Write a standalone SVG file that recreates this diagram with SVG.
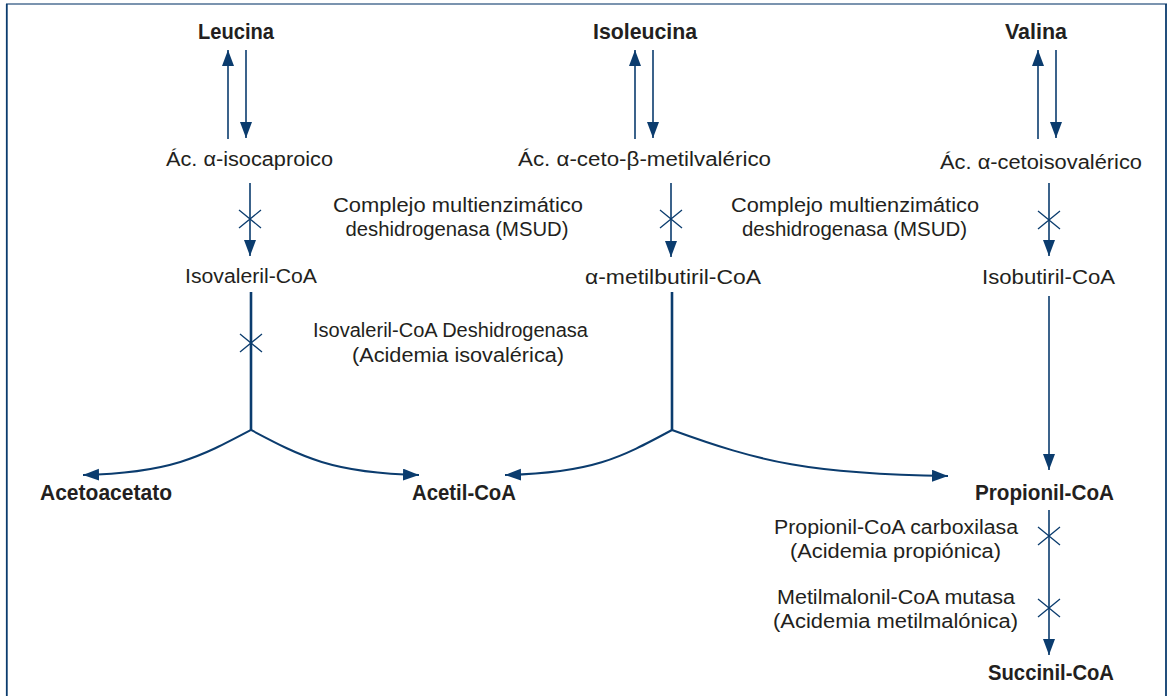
<svg xmlns="http://www.w3.org/2000/svg" width="1170" height="696" viewBox="0 0 1170 696">
  <style>
    .t { font-family: "Liberation Sans", Arial, sans-serif; font-size: 20px; fill: #231f20; text-anchor: middle; }
    .b { font-family: "Liberation Sans", Arial, sans-serif; font-size: 22px; font-weight: bold; fill: #231f20; text-anchor: middle; }
    .ln { stroke: #0b3c6e; stroke-width: 1.6; fill: none; }
    .thick { stroke: #0b3c6e; stroke-width: 2.6; fill: none; }
    .curve { stroke: #0b3c6e; stroke-width: 2; fill: none; }
    .x { stroke: #0b3c6e; stroke-width: 1.3; fill: none; }
  </style>
  <defs>
    <marker id="ah" markerUnits="userSpaceOnUse" markerWidth="17" markerHeight="13" refX="16" refY="6" orient="auto">
      <path d="M0,0 L16,6 L0,12 z" fill="#0b3c6e"/>
    </marker>
  </defs>

  <rect width="1170" height="696" fill="#ffffff"/>

  <!-- frame -->
  <g id="frame">
    <line x1="6" y1="4" x2="1167" y2="4" stroke="#4f7194" stroke-width="1.6"/>
    <line x1="6.8" y1="4" x2="6.8" y2="696" stroke="#0b3c6e" stroke-width="1.8"/>
    <line x1="1166" y1="4" x2="1166" y2="696" stroke="#0b3c6e" stroke-width="1.8"/>
  </g>

  <!-- connectors -->
  <g id="connectors">
    <!-- Leucina <-> ácido α-isocaproico -->
    <line class="ln" x1="228" y1="139" x2="228" y2="50" marker-end="url(#ah)"/>
    <line class="ln" x1="246" y1="50" x2="246" y2="138" marker-end="url(#ah)"/>
    <!-- Isoleucina <-> ácido α-ceto-β-metilvalérico -->
    <line class="ln" x1="635" y1="139" x2="635" y2="50" marker-end="url(#ah)"/>
    <line class="ln" x1="653" y1="50" x2="653" y2="138" marker-end="url(#ah)"/>
    <!-- Valina <-> ácido α-cetoisovalérico -->
    <line class="ln" x1="1038" y1="139" x2="1038" y2="50" marker-end="url(#ah)"/>
    <line class="ln" x1="1056" y1="50" x2="1056" y2="138" marker-end="url(#ah)"/>

    <!-- MSUD steps -->
    <line class="ln" x1="250" y1="183" x2="250" y2="256" marker-end="url(#ah)"/>
    <line class="ln" x1="671" y1="183" x2="671" y2="257" marker-end="url(#ah)"/>
    <line class="ln" x1="1049" y1="183" x2="1049" y2="256" marker-end="url(#ah)"/>

    <!-- to branch points -->
    <line class="thick" x1="251" y1="292" x2="251" y2="430"/>
    <line class="thick" x1="672" y1="292" x2="672" y2="430"/>
    <line class="ln" x1="1049" y1="296" x2="1049" y2="470" marker-end="url(#ah)"/>

    <!-- Leucina branches -->
    <path class="curve" d="M251,430 C200,457 170,473 83,475" marker-end="url(#ah)"/>
    <path class="curve" d="M251,430 C302,457 332,473 419,475" marker-end="url(#ah)"/>
    <!-- Isoleucina branches -->
    <path class="curve" d="M672,430 C620,458 592,473 505,475" marker-end="url(#ah)"/>
    <path class="curve" d="M672,430 C760,462 810,474 948,476" marker-end="url(#ah)"/>

    <!-- Propionil-CoA -> Succinil-CoA -->
    <line class="ln" x1="1049" y1="510" x2="1049" y2="655" marker-end="url(#ah)"/>

    <!-- enzyme blocks -->
    <path class="x" d="M239,210 L261,228 M261,210 L239,228"/>
    <path class="x" d="M240,334 L262,352 M262,334 L240,352"/>
    <path class="x" d="M660,210 L682,228 M682,210 L660,228"/>
    <path class="x" d="M1038,211 L1060,229 M1060,211 L1038,229"/>
    <path class="x" d="M1038,527 L1060,545 M1060,527 L1038,545"/>
    <path class="x" d="M1038,599 L1060,617 M1060,599 L1038,617"/>
  </g>

  <!-- amino acids -->
  <g id="leucina"><text class="b" x="236" y="39" textLength="76" lengthAdjust="spacingAndGlyphs">Leucina</text></g>
  <g id="isoleucina"><text class="b" x="645" y="39" textLength="104" lengthAdjust="spacingAndGlyphs">Isoleucina</text></g>
  <g id="valina"><text class="b" x="1036" y="39" textLength="62" lengthAdjust="spacingAndGlyphs">Valina</text></g>

  <!-- keto acids -->
  <g id="isocaproico"><text class="t" x="249.5" y="166" textLength="167" lengthAdjust="spacingAndGlyphs">Ác. α-isocaproico</text></g>
  <g id="metilvalerico"><text class="t" x="644.5" y="166" textLength="253" lengthAdjust="spacingAndGlyphs">Ác. α-ceto-β-metilvalérico</text></g>
  <g id="cetoisovalerico"><text class="t" x="1041" y="169" textLength="202" lengthAdjust="spacingAndGlyphs">Ác. α-cetoisovalérico</text></g>

  <!-- MSUD enzyme labels -->
  <g id="msud-1">
    <text class="t" x="458" y="212" textLength="250" lengthAdjust="spacingAndGlyphs">Complejo multienzimático</text>
    <text class="t" x="457" y="236" textLength="223" lengthAdjust="spacingAndGlyphs">deshidrogenasa (MSUD)</text>
  </g>
  <g id="msud-2">
    <text class="t" x="855" y="212" textLength="248" lengthAdjust="spacingAndGlyphs">Complejo multienzimático</text>
    <text class="t" x="854.5" y="236" textLength="225" lengthAdjust="spacingAndGlyphs">deshidrogenasa (MSUD)</text>
  </g>

  <!-- acyl-CoA -->
  <g id="isovaleril-coa"><text class="t" x="251" y="283" textLength="132" lengthAdjust="spacingAndGlyphs">Isovaleril-CoA</text></g>
  <g id="metilbutiril-coa"><text class="t" x="673" y="284" textLength="176" lengthAdjust="spacingAndGlyphs">α-metilbutiril-CoA</text></g>
  <g id="isobutiril-coa"><text class="t" x="1048.5" y="284" textLength="133" lengthAdjust="spacingAndGlyphs">Isobutiril-CoA</text></g>

  <g id="ivd">
    <text class="t" x="450.5" y="337" textLength="275" lengthAdjust="spacingAndGlyphs">Isovaleril-CoA Deshidrogenasa</text>
    <text class="t" x="458" y="362" textLength="212" lengthAdjust="spacingAndGlyphs">(Acidemia isovalérica)</text>
  </g>

  <!-- products -->
  <g id="acetoacetato"><text class="b" x="106" y="500" textLength="132" lengthAdjust="spacingAndGlyphs">Acetoacetato</text></g>
  <g id="acetil-coa"><text class="b" x="464" y="500" textLength="104" lengthAdjust="spacingAndGlyphs">Acetil-CoA</text></g>
  <g id="propionil-coa"><text class="b" x="1044.5" y="500" textLength="139" lengthAdjust="spacingAndGlyphs">Propionil-CoA</text></g>

  <g id="pcc">
    <text class="t" x="896" y="534" textLength="244" lengthAdjust="spacingAndGlyphs">Propionil-CoA carboxilasa</text>
    <text class="t" x="895.5" y="558" textLength="211" lengthAdjust="spacingAndGlyphs">(Acidemia propiónica)</text>
  </g>
  <g id="mcm">
    <text class="t" x="896" y="604" textLength="238" lengthAdjust="spacingAndGlyphs">Metilmalonil-CoA mutasa</text>
    <text class="t" x="895.5" y="628" textLength="245" lengthAdjust="spacingAndGlyphs">(Acidemia metilmalónica)</text>
  </g>

  <g id="succinil-coa"><text class="b" x="1051" y="680" textLength="126" lengthAdjust="spacingAndGlyphs">Succinil-CoA</text></g>
</svg>
